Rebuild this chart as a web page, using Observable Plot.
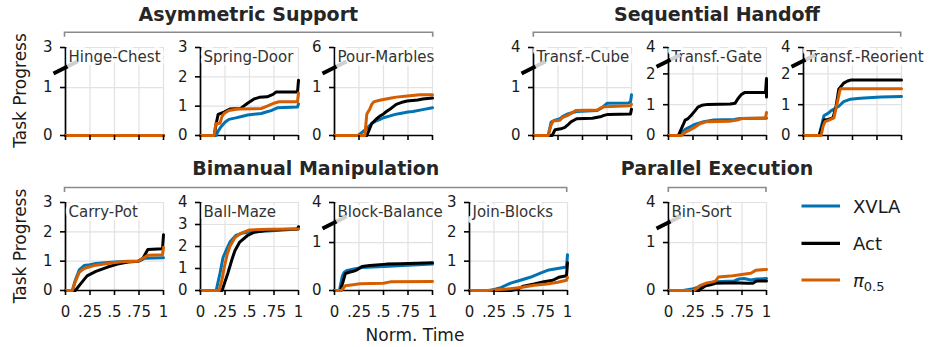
<!DOCTYPE html>
<html>
<head>
<meta charset="utf-8">
<script src="https://cdn.jsdelivr.net/npm/d3@7"></script>
<script src="https://cdn.jsdelivr.net/npm/@observablehq/plot@0.6"></script>
<style>
  html, body { margin: 0; padding: 0; background: #fff; }
  #fig { position: relative; width: 933px; height: 347px; overflow: hidden; font-family: "DejaVu Sans", sans-serif; }
  #deco { position: absolute; left: 0; top: 0; }
</style>
</head>
<body>
<div id="fig"></div>
<script>
// ---------- data ----------
const seriesNames = ["XVLA", "Act", "π0.5"];
const seriesKeys = ["xvla", "act", "pi05"];
const seriesColors = ["#0173B2", "#000000", "#D55E00"];
const xTicks = [0, 0.25, 0.5, 0.75, 1];
const xTickLabels = ["0", ".25", ".5", ".75", "1"];

const hingeChest = {
  xvla: [[0, 0], [1, 0]],
  act:  [[0, 0], [1, 0]],
  pi05: [[0, 0], [1, 0]]
};
const springDoor = {
  xvla: [[0,0],[0.16,0],[0.18,0.15],[0.21,0.3],[0.25,0.45],[0.29,0.55],[0.36,0.6],[0.42,0.65],[0.48,0.7],[0.62,0.75],[0.67,0.8],[0.72,0.85],[0.79,0.95],[0.99,0.97],[1,1.08]],
  act:  [[0,0],[0.14,0],[0.16,0.4],[0.18,0.72],[0.24,0.8],[0.3,0.9],[0.41,0.92],[0.44,1.0],[0.48,1.1],[0.55,1.25],[0.6,1.3],[0.68,1.32],[0.74,1.4],[0.77,1.48],[0.99,1.48],[1,1.88]],
  pi05: [[0,0],[0.14,0],[0.155,0.4],[0.2,0.42],[0.22,0.65],[0.24,0.75],[0.29,0.85],[0.38,0.9],[0.62,0.92],[0.68,1.0],[0.75,1.1],[0.8,1.15],[0.99,1.15],[1,1.45]]
};
const pourMarbles = {
  xvla: [[0,0],[0.24,0],[0.29,0.08],[0.33,0.15],[0.38,0.25],[0.42,0.3],[0.46,0.33],[0.5,0.37],[0.55,0.4],[0.62,0.44],[0.67,0.46],[0.75,0.49],[0.8,0.5],[0.9,0.54],[1,0.58]],
  act:  [[0,0],[0.33,0],[0.35,0.1],[0.38,0.25],[0.43,0.35],[0.46,0.4],[0.5,0.45],[0.53,0.5],[0.58,0.57],[0.63,0.65],[0.7,0.7],[0.74,0.72],[0.85,0.74],[0.9,0.76],[1,0.78]],
  pi05: [[0,0],[0.31,0],[0.33,0.45],[0.36,0.55],[0.38,0.65],[0.4,0.7],[0.45,0.73],[0.5,0.75],[0.58,0.78],[0.63,0.8],[0.72,0.82],[0.77,0.83],[0.87,0.85],[1,0.85]]
};
const transfCube = {
  xvla: [[0,0],[0.15,0],[0.18,0.28],[0.22,0.32],[0.27,0.35],[0.3,0.4],[0.35,0.45],[0.4,0.48],[0.44,0.5],[0.65,0.52],[0.7,0.58],[0.75,0.67],[0.97,0.68],[0.99,0.7],[1,0.85]],
  act:  [[0,0],[0.19,0],[0.22,0.12],[0.28,0.14],[0.32,0.17],[0.35,0.22],[0.38,0.28],[0.44,0.35],[0.6,0.36],[0.68,0.39],[0.72,0.42],[0.76,0.44],[0.99,0.45],[1,0.55]],
  pi05: [[0,0],[0.15,0],[0.18,0.22],[0.2,0.3],[0.27,0.32],[0.3,0.38],[0.35,0.42],[0.4,0.48],[0.43,0.52],[0.65,0.53],[0.68,0.57],[0.72,0.6],[0.99,0.62],[1,0.65]]
};
const transfGate = {
  xvla: [[0,0],[0.1,0],[0.17,0.2],[0.22,0.28],[0.26,0.35],[0.31,0.4],[0.36,0.45],[0.46,0.5],[0.67,0.52],[0.73,0.55],[1,0.56]],
  act:  [[0,0],[0.1,0],[0.15,0.35],[0.17,0.5],[0.2,0.55],[0.23,0.65],[0.27,0.8],[0.3,0.92],[0.34,0.98],[0.4,1.01],[0.63,1.02],[0.68,1.05],[0.71,1.2],[0.74,1.32],[0.78,1.4],[0.99,1.4],[1,1.85],[1,1.25]],
  pi05: [[0,0],[0.13,0],[0.17,0.1],[0.22,0.18],[0.26,0.25],[0.32,0.38],[0.39,0.45],[0.62,0.46],[0.7,0.5],[0.75,0.55],[0.99,0.57],[1,0.75]]
};
const transfReorient = {
  xvla: [[0,0],[0.16,0],[0.19,0.4],[0.21,0.65],[0.25,0.72],[0.28,0.8],[0.32,0.88],[0.36,0.95],[0.41,1.1],[0.48,1.18],[0.55,1.2],[0.62,1.22],[0.79,1.25],[1,1.27]],
  act:  [[0,0],[0.16,0],[0.19,0.3],[0.21,0.5],[0.25,0.52],[0.3,0.57],[0.33,0.9],[0.36,1.5],[0.41,1.7],[0.45,1.77],[0.48,1.8],[1,1.8]],
  pi05: [[0,0],[0.18,0],[0.2,0.3],[0.22,0.45],[0.26,0.5],[0.31,0.57],[0.34,1.0],[0.37,1.45],[0.38,1.52],[1,1.52]]
};
const carryPot = {
  xvla: [[0,0],[0.07,0],[0.1,0.35],[0.14,0.7],[0.19,0.85],[0.25,0.88],[0.31,0.92],[0.4,0.95],[0.5,0.97],[0.64,1.0],[0.75,1.0],[0.81,1.1],[1,1.12]],
  act:  [[0,0],[0.1,0],[0.16,0.25],[0.22,0.5],[0.31,0.65],[0.43,0.8],[0.53,0.9],[0.64,0.97],[0.74,1.0],[0.79,1.1],[0.84,1.4],[0.99,1.42],[1,1.9]],
  pi05: [[0,0],[0.07,0],[0.1,0.3],[0.14,0.62],[0.19,0.75],[0.29,0.85],[0.43,0.92],[0.57,0.98],[0.74,1.0],[0.79,1.1],[0.84,1.2],[0.99,1.22],[1,1.47]]
};
const ballMaze = {
  xvla: [[0,0],[0.16,0],[0.2,0.8],[0.23,1.5],[0.27,1.9],[0.3,2.2],[0.36,2.5],[0.42,2.6],[0.48,2.65],[0.69,2.7],[0.85,2.75],[1,2.8]],
  act:  [[0,0],[0.22,0],[0.25,0.4],[0.28,0.8],[0.32,1.4],[0.35,1.8],[0.4,2.2],[0.48,2.5],[0.55,2.65],[0.69,2.75],[0.99,2.8],[1,2.9]],
  pi05: [[0,0],[0.19,0],[0.22,0.5],[0.24,1.0],[0.27,1.6],[0.3,2.0],[0.35,2.4],[0.41,2.6],[0.5,2.75],[0.7,2.78],[1,2.8]]
};
const blockBalance = {
  xvla: [[0,0],[0.05,0],[0.08,0.3],[0.1,0.38],[0.13,0.42],[0.2,0.45],[0.28,0.48],[0.5,0.5],[0.7,0.52],[1,0.55]],
  act:  [[0,0],[0.06,0],[0.09,0.2],[0.11,0.35],[0.15,0.38],[0.19,0.4],[0.23,0.43],[0.28,0.5],[0.36,0.52],[0.53,0.55],[0.67,0.56],[1,0.58]],
  pi05: [[0,0],[0.07,0],[0.11,0.1],[0.19,0.12],[0.26,0.14],[0.5,0.15],[0.57,0.18],[1,0.19]]
};
const joinBlocks = {
  xvla: [[0,0],[0.21,0],[0.27,0.05],[0.32,0.1],[0.42,0.25],[0.52,0.35],[0.62,0.45],[0.73,0.6],[0.81,0.7],[0.9,0.75],[0.99,0.8],[1,1.22]],
  act:  [[0,0],[0.42,0],[0.49,0.05],[0.55,0.15],[0.66,0.22],[0.76,0.3],[0.85,0.35],[0.91,0.45],[0.99,0.5],[1,0.95]],
  pi05: [[0,0],[0.18,0],[0.38,0.05],[0.52,0.1],[0.66,0.18],[0.79,0.22],[0.9,0.28],[0.99,0.35],[1,0.45]]
};
const binSort = {
  xvla: [[0,0],[0.15,0],[0.24,0.03],[0.3,0.07],[0.36,0.1],[0.42,0.13],[0.49,0.18],[0.67,0.2],[0.72,0.24],[0.77,0.25],[0.84,0.22],[0.9,0.24],[1,0.25]],
  act:  [[0,0],[0.31,0],[0.34,0.05],[0.38,0.1],[0.43,0.12],[0.48,0.15],[0.67,0.16],[0.8,0.15],[0.86,0.15],[0.9,0.2],[1,0.2]],
  pi05: [[0,0],[0.26,0],[0.32,0.1],[0.38,0.15],[0.45,0.18],[0.48,0.2],[0.51,0.28],[0.63,0.3],[0.73,0.33],[0.84,0.36],[0.89,0.42],[1,0.44]]
};

const panelNames = ["Hinge-Chest", "Spring-Door", "Pour-Marbles", "Transf.-Cube", "Transf.-Gate", "Transf.-Reorient",
                    "Carry-Pot", "Ball-Maze", "Block-Balance", "Join-Blocks", "Bin-Sort"];
const panelYTicks = [[0,1,3], [0,1,2,3], [0,1,6], [0,1,4], [0,1,2,4], [0,1,2,4],
                     [0,1,2,3], [0,1,2,3,4], [0,1,4], [0,1,2,3], [0,1,4]];
// last tick value below the axis break (null = continuous axis)
const panelBreakBelow = [1, null, 1, 1, 2, 2, null, null, 1, null, 1];
const panelData = [hingeChest, springDoor, pourMarbles, transfCube, transfGate, transfReorient,
                   carryPot, ballMaze, blockBalance, joinBlocks, binSort];

const groupTitles = ["Asymmetric Support", "Sequential Handoff", "Bimanual Manipulation", "Parallel Execution"];
const yLabel = "Task Progress";
const xLabel = "Norm. Time";

// ---------- layout ----------
const panelLeft = [64.5, 199.5, 334.3, 533.3, 668.3, 802.5, 65, 199.5, 334.3, 469.3, 668.3];
const panelRow  = [0, 0, 0, 0, 0, 0, 1, 1, 1, 1, 1];
const rowTop = [46.5, 202];
const W = 98, H = 88, mL = 46, mR = 14, mT = 12, mB = 36;

const fig = document.getElementById("fig");

// decorations (titles, brackets, axis labels, legend)
const deco = d3.select(fig).append("svg")
  .attr("id", "deco").attr("width", 933).attr("height", 347)
  .style("font-family", "'DejaVu Sans', sans-serif");

const groupLayout = [
  {x: 248.3, y: 20.7, x1: 64.5, x2: 432.7, by: 32.3},
  {x: 717,   y: 20.7, x1: 533.3, x2: 900.7, by: 32.3},
  {x: 315.8, y: 174.5, x1: 64.5, x2: 566.7, by: 187.5},
  {x: 717,   y: 175, x1: 668.3, x2: 766, by: 187.5}
];
groupTitles.forEach((t, i) => {
  const g = groupLayout[i];
  deco.append("text").attr("x", g.x).attr("y", g.y).attr("text-anchor", "middle")
    .attr("font-size", 19).attr("font-weight", "bold").attr("fill", "#262626").text(t);
  deco.append("path").attr("d", `M${g.x1},${g.by + 4.5}V${g.by}H${g.x2}V${g.by + 4.5}`)
    .attr("fill", "none").attr("stroke", "#8a8a8a").attr("stroke-width", 1.6);
});
[90.5, 246].forEach(cy => {
  deco.append("text").attr("transform", `translate(20,${cy}) rotate(-90)`)
    .attr("text-anchor", "middle").attr("dominant-baseline", "central")
    .attr("font-size", 17).attr("fill", "#1a1a1a").text(yLabel);
});
deco.append("text").attr("x", 415).attr("y", 340.5).attr("text-anchor", "middle")
  .attr("font-size", 17).attr("fill", "#1a1a1a").text(xLabel);

const legendY = [206, 243.3, 280];
seriesNames.forEach((name, i) => {
  deco.append("line").attr("x1", 801.5).attr("x2", 840).attr("y1", legendY[i]).attr("y2", legendY[i])
    .attr("stroke", seriesColors[i]).attr("stroke-width", 3.2);
  const t = deco.append("text").attr("x", 853).attr("y", legendY[i] + 6.5)
    .attr("font-size", 18).attr("fill", "#1a1a1a");
  if (name === "π0.5") {
    t.append("tspan").attr("font-style", "italic").text("π");
    t.append("tspan").attr("font-size", 13).attr("dy", 4).text("0.5");
  } else {
    t.text(name);
  }
});

// ---------- panels ----------
function panel(i) {
  const ticks = panelYTicks[i];
  const yMax = ticks[ticks.length - 1];
  const low = panelBreakBelow[i];
  const broken = low != null;
  const lowFrac = low === 2 ? 0.70 : 0.545;
  // broken axis: values up to `low` are linear, the rest is compressed above the break
  const D = broken ? low / lowFrac : yMax;                  // display-space top
  const k = broken ? (D - low) / (yMax - low) : 1;
  const f = v => (broken && v > low) ? low + (v - low) * k : v;
  const tickPos = ticks.map(f);
  const tickLabel = new Map(tickPos.map((p, j) => [p, String(ticks[j])]));

  const rows = seriesKeys.flatMap((key, j) =>
    panelData[i][key].map(([t, v]) => ({t, v, s: seriesNames[j]})));

  const bottomRow = panelRow[i] === 1;
  const marks = [
    Plot.gridX(xTicks.slice(1), {stroke: "#e2e2e2", strokeOpacity: 1, strokeWidth: 1.2}),
    Plot.gridY(tickPos.slice(1), {stroke: "#e2e2e2", strokeOpacity: 1, strokeWidth: 1.2}),
    Plot.ruleX([0], {stroke: "black", strokeWidth: 1.7}),
    Plot.ruleY([0], {stroke: "black", strokeWidth: 1.7}),
    Plot.line(rows, {x: "t", y: d => f(d.v), z: "s", stroke: "s", strokeWidth: 3, strokeLinejoin: "round"}),
    Plot.axisY(tickPos, {tickSize: 5, tickPadding: 8, fontSize: 15, fill: "#1a1a1a", stroke: "black", strokeWidth: 1.6,
      label: null, tickFormat: p => tickLabel.get(p)}),
    Plot.axisX(xTicks, {tickSize: 5, tickPadding: 11, fontSize: 15, fill: "#1a1a1a", stroke: "black", strokeWidth: 1.6, label: null,
      tickFormat: bottomRow ? (d => xTickLabels[xTicks.indexOf(d)]) : (() => "")}),
    Plot.text([panelNames[i]], {
      text: d => d, frameAnchor: "top-left", textAnchor: "start", lineAnchor: "top",
      dx: 3, dy: 4, fontSize: 15, fill: "#333",
      stroke: "white", strokeWidth: 7, strokeOpacity: 0.85, strokeLinejoin: "round", paintOrder: "stroke"
    })
  ];

  if (broken) {
    const ux = 1 / W;        // x units per pixel
    const uy = D / H;        // display y units per pixel
    const b = (low + D) / 2;
    const blackSeg = [{x1: -12 * ux, y1: b - 6 * uy, x2: 2 * ux, y2: b + 1 * uy}];
    const greySeg  = [{x1: 2 * ux, y1: b + 1 * uy, x2: 12 * ux, y2: b + 6 * uy}];
    marks.push(Plot.link(greySeg, {x1: "x1", y1: "y1", x2: "x2", y2: "y2", stroke: "#cfcfcf", strokeWidth: 4}));
    marks.push(Plot.link(blackSeg, {x1: "x1", y1: "y1", x2: "x2", y2: "y2", stroke: "black", strokeWidth: 4}));
  }

  const top = rowTop[panelRow[i]];
  const svg = Plot.plot({
    width: mL + W + mR,
    height: mT + H + mB,
    marginLeft: mL, marginRight: mR, marginTop: mT, marginBottom: mB,
    x: {domain: [0, 1]},
    y: {domain: [0, D]},
    color: {domain: seriesNames, range: seriesColors},
    style: {
      position: "absolute",
      left: (panelLeft[i] - mL) + "px",
      top: (top - mT) + "px",
      overflow: "visible",
      background: "transparent",
      fontFamily: "'DejaVu Sans', sans-serif"
    },
    marks
  });
  fig.appendChild(svg);
}

panelNames.forEach((_, i) => panel(i));
</script>
</body>
</html>
